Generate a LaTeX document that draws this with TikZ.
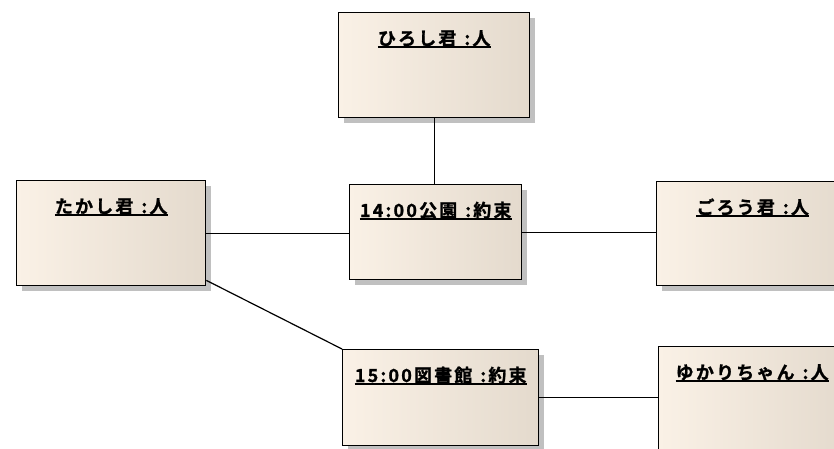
\documentclass[tikz,border=0pt]{standalone}
\usepackage{fontspec}
\newfontfamily\jpfont[LetterSpace=12,FakeBold=1.2]{Noto Sans CJK JP Bold}
\usetikzlibrary{shadows,calc}
\definecolor{boxL}{RGB}{250,241,230}
\definecolor{boxM}{RGB}{245,235,219}
\definecolor{boxR}{RGB}{228,218,205}
\definecolor{shadowgray}{RGB}{192,192,192}
\newcommand{\gapc}{\hspace{8pt}}
\tikzset{
  objbox/.style={draw=black, line width=1.4pt, rectangle, anchor=north west, inner sep=0pt,
    left color=boxL, middle color=boxM, right color=boxR,
    drop shadow={shadow xshift=5pt, shadow yshift=-5pt, fill=shadowgray, opacity=1}},
  objlabel/.style={anchor=base, inner sep=0pt, font=\jpfont\fontsize{18}{21}\selectfont},
  uline/.style={line width=1.2pt, black},
  link/.style={line width=1.2pt, black}
}
\begin{document}
\begin{tikzpicture}[x=1pt,y=-1pt]
\clip (0,0) rectangle (834,448);
\fill[white] (0,0) rectangle (834,448);
% boxes
\node[objbox, minimum width=191pt, minimum height=105pt] (hiroshi) at (338,12) {};
\node[objbox, minimum width=189pt, minimum height=105pt] (takashi) at (16,180) {};
\node[objbox, minimum width=172pt, minimum height=95pt] (park) at (349,184) {};
\node[objbox, minimum width=192pt, minimum height=104pt] (goro) at (656,181) {};
\node[objbox, minimum width=196pt, minimum height=96pt] (library) at (342,349) {};
\node[objbox, minimum width=187pt, minimum height=104pt] (yukari) at (658,346) {};
% labels
\node[objlabel] (lhiroshi) at ($(hiroshi.north)+(0,33)$) {ひろし君\gapc:人};
\node[objlabel] (ltakashi) at ($(takashi.north)+(0,33)$) {たかし君\gapc:人};
\node[objlabel] (lpark) at ($(park.north)+(0,33)$) {14:00公園\gapc:約束};
\node[objlabel] (lgoro) at ($(goro.north)+(0,33)$) {ごろう君\gapc:人};
\node[objlabel] (llibrary) at ($(library.north)+(0,33)$) {15:00図書館\gapc:約束};
\node[objlabel] (lyukari) at ($(yukari.north)+(0,33)$) {ゆかりちゃん\gapc:人};
\foreach \n in {lhiroshi,ltakashi,lpark,lgoro,llibrary,lyukari}{
  \draw[uline] ($(\n.base west)+(0,2)$) -- ($(\n.base east)+(0,2)$);
}
% connectors
\draw[link] (hiroshi.south) -- (hiroshi.south |- park.north);
\draw[link] (takashi.east) -- (takashi.east -| park.west);
\draw[link] (park.east) -- (park.east -| goro.west);
\draw[link] ($(takashi.south east)+(0,-6)$) -- (library.north west);
\draw[link] (library.east) -- (library.east -| yukari.west);
\end{tikzpicture}
\end{document}
